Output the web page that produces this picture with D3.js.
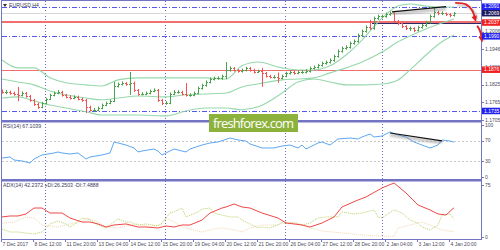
<!DOCTYPE html>
<html lang="en">
<head>
<meta charset="UTF-8">
<title>EURUSD,H4</title>
<script src="https://cdn.jsdelivr.net/npm/d3@7"></script>
<style>
  body { margin:0; background:#fff; }
  svg text { font-family: "Liberation Sans", Arial, sans-serif; }
  .ax { font-size:5px; fill:#4a4a5a; }
  .lbl { font-size:5.2px; fill:#3a3a5a; }
</style>
</head>
<body>
<svg id="main" width="500" height="250"></svg>
<script>
// H4 bars, 7 Dec 2017 .. 4 Jan 2018
const opens = [1.1803,
  1.1800,1.1800,1.1796,1.1793,1.1790,1.1796,1.1786,1.1772,1.1759,1.1749,
  1.1762,1.1776,1.1789,1.1796,1.1800,1.1789,1.1783,1.1779,1.1783,1.1776,
  1.1772,1.1749,1.1738,1.1738,1.1745,1.1755,1.1762,1.1769,1.1820,1.1827,
  1.1830,1.1827,1.1831,1.1806,1.1793,1.1793,1.1796,1.1803,1.1806,1.1772,
  1.1762,1.1762,1.1793,1.1800,1.1800,1.1793,1.1789,1.1789,1.1796,1.1813,
  1.1823,1.1834,1.1844,1.1847,1.1847,1.1854,1.1874,1.1881,1.1874,1.1871,
  1.1874,1.1881,1.1874,1.1868,1.1871,1.1864,1.1854,1.1851,1.1851,1.1848,
  1.1854,1.1864,1.1868,1.1864,1.1868,1.1868,1.1871,1.1881,1.1885,1.1891,
  1.1898,1.1902,1.1908,1.1922,1.1939,1.1949,1.1953,1.1966,1.1973,1.1993,
  1.2007,1.2021,1.2017,1.2051,1.2058,1.2058,1.2065,1.2068,1.2041,1.2034,
  1.2024,1.2017,1.2017,1.2010,1.2021,1.2027,1.2038,1.2058,1.2072,1.2068,
  1.2068,1.2065,1.2061];
const closes = [
  1.1800,1.1800,1.1796,1.1793,1.1790,1.1796,1.1786,1.1772,1.1759,1.1749,
  1.1762,1.1776,1.1789,1.1796,1.1800,1.1789,1.1783,1.1779,1.1783,1.1776,
  1.1772,1.1749,1.1738,1.1738,1.1745,1.1755,1.1762,1.1769,1.1820,1.1827,
  1.1830,1.1827,1.1831,1.1806,1.1793,1.1793,1.1796,1.1803,1.1806,1.1772,
  1.1762,1.1762,1.1793,1.1800,1.1800,1.1793,1.1789,1.1789,1.1796,1.1813,
  1.1823,1.1834,1.1844,1.1847,1.1847,1.1854,1.1874,1.1881,1.1874,1.1871,
  1.1874,1.1881,1.1874,1.1868,1.1871,1.1864,1.1854,1.1851,1.1851,1.1848,
  1.1854,1.1864,1.1868,1.1864,1.1868,1.1868,1.1871,1.1881,1.1885,1.1891,
  1.1898,1.1902,1.1908,1.1922,1.1939,1.1949,1.1953,1.1966,1.1973,1.1993,
  1.2007,1.2021,1.2017,1.2051,1.2058,1.2058,1.2065,1.2068,1.2041,1.2034,
  1.2024,1.2017,1.2017,1.2010,1.2021,1.2027,1.2038,1.2058,1.2072,1.2068,
  1.2068,1.2065,1.2061,1.2068];
const highs = [
  1.1808,1.1806,1.1804,1.1801,1.1817,1.1802,1.1800,1.1790,1.1776,1.1763,
  1.1766,1.1780,1.1794,1.1801,1.1806,1.1804,1.1793,1.1788,1.1788,1.1787,
  1.1780,1.1776,1.1753,1.1745,1.1750,1.1760,1.1767,1.1774,1.1834,1.1832,
  1.1836,1.1834,1.1868,1.1835,1.1810,1.1799,1.1801,1.1808,1.1812,1.1810,
  1.1776,1.1768,1.1798,1.1806,1.1806,1.1804,1.1830,1.1795,1.1801,1.1818,
  1.1828,1.1839,1.1849,1.1852,1.1853,1.1859,1.1902,1.1887,1.1885,1.1878,
  1.1880,1.1886,1.1885,1.1879,1.1876,1.1882,1.1868,1.1858,1.1857,1.1866,
  1.1859,1.1869,1.1873,1.1872,1.1873,1.1874,1.1877,1.1886,1.1890,1.1896,
  1.1903,1.1907,1.1914,1.1927,1.1945,1.1955,1.1959,1.1972,1.1979,1.1999,
  1.2013,1.2027,1.2046,1.2057,1.2064,1.2064,1.2071,1.2075,1.2072,1.2046,
  1.2038,1.2028,1.2023,1.2021,1.2026,1.2032,1.2043,1.2064,1.2090,1.2077,
  1.2075,1.2071,1.2069,1.2073];
const lows = [
  1.1794,1.1792,1.1790,1.1787,1.1768,1.1785,1.1780,1.1766,1.1752,1.1742,
  1.1744,1.1758,1.1772,1.1785,1.1792,1.1784,1.1778,1.1774,1.1775,1.1771,
  1.1766,1.1728,1.1733,1.1732,1.1734,1.1741,1.1751,1.1758,1.1765,1.1815,
  1.1822,1.1821,1.1790,1.1800,1.1787,1.1788,1.1789,1.1792,1.1799,1.1766,
  1.1755,1.1756,1.1758,1.1789,1.1794,1.1788,1.1784,1.1783,1.1785,1.1792,
  1.1808,1.1818,1.1829,1.1839,1.1841,1.1841,1.1843,1.1869,1.1869,1.1866,
  1.1866,1.1870,1.1869,1.1863,1.1864,1.1817,1.1849,1.1846,1.1845,1.1831,
  1.1843,1.1850,1.1859,1.1859,1.1860,1.1862,1.1863,1.1866,1.1876,1.1880,
  1.1886,1.1893,1.1897,1.1903,1.1917,1.1934,1.1944,1.1948,1.1961,1.1968,
  1.1988,1.2002,1.2012,1.2012,1.2046,1.2052,1.2053,1.2060,1.2035,1.2028,
  1.2018,1.2011,1.2008,1.2004,1.2006,1.2016,1.2022,1.2033,1.2053,1.2062,
  1.2062,1.2059,1.2055,1.2057];

// Bollinger bands, read at these bar indices
const bbIdx   = [0,4,8,12,16,21,25,29,34,41,46,51,56,60,64,70,74,78,82,86,90,95,99,102,106,110,113];
const bbUpper = [1.1909,1.1882,1.1882,1.1848,1.1831,1.1824,1.1820,1.1841,1.1848,1.1848,1.1848,1.1848,1.1844,1.1889,1.1902,1.1882,1.1875,1.1875,1.1889,1.1926,1.1977,1.2052,1.2093,1.2100,1.2093,1.2090,1.2090];
const bbMid   = [1.1844,1.1834,1.1824,1.1803,1.1790,1.1779,1.1773,1.1779,1.1786,1.1783,1.1790,1.1793,1.1796,1.1817,1.1827,1.1841,1.1844,1.1848,1.1865,1.1882,1.1902,1.1936,1.1971,1.1991,1.2015,1.2035,1.2049];
const bbLower = [1.1779,1.1783,1.1769,1.1755,1.1745,1.1732,1.1721,1.1721,1.1721,1.1718,1.1735,1.1745,1.1745,1.1739,1.1749,1.1796,1.1834,1.1844,1.1834,1.1824,1.1824,1.1827,1.1841,1.1875,1.1926,1.1971,1.1994];

// RSI(14)
const rsiIdx = [0,2,3,5,7,8,10,13,14,15,17,19,21,22,25,27,28,30,31,33,34,35,38,39,40,41,43,44,46,47,50,52,54,57,59,61,62,65,68,70,72,74,75,76,79,80,82,84,87,89,90,92,93,95,97,99,101,103,105,107,109,110,112,113];
const rsiVal = [36.5,38.5,32.7,30.8,26.9,34.6,42.3,46.2,48.1,46.2,44.2,46.2,34.6,38.5,42.3,46.2,67.3,63.5,61.5,55.8,48.1,50,53.8,50,42.3,46.2,53.8,51.9,48.1,53.8,61.5,65.4,67.3,75,71.2,69.2,63.5,55.8,55.8,59.6,61.5,55.8,61.5,53.8,65.4,67.3,61.5,73.1,75,73.1,76.9,82.7,76.9,78.8,86.5,80.8,76.9,67.3,61.5,55.8,61.5,71.2,69.2,67.1];

// ADX(14), +DI, -DI
const adxIdx = [0,2,4,6,8,10,12,15,17,20,22,24,26,28,31,34,36,39,41,43,45,47,50,52,55,56,58,60,62,65,69,71,73,75,77,80,83,85,89,91,95,98,101,104,107,109,111,113];
const adxVal = [28.9,30.3,30.3,33.2,41.8,41.8,34.6,34.6,27.4,21.6,21.6,18.8,14.4,17.3,18.8,14.4,14.4,13.0,15.9,14.4,17.3,17.3,24.5,34.6,41.8,43.3,47.6,43.3,41.8,34.6,27.4,20.2,18.8,17.3,14.4,20.2,28.9,43.3,53.4,57.7,70.7,77.9,63.5,46.2,39.0,33.2,31.7,42.2];
const pdiIdx = [0,2,4,8,10,12,14,16,17,19,20,22,24,26,28,29,31,32,34,36,39,40,42,43,45,46,49,50,52,53,55,57,59,60,62,64,65,67,70,73,75,77,79,81,84,85,88,90,93,94,95,98,100,102,104,105,107,109,110,112,113];
const pdiVal = [11.5,7.2,7.2,4.3,7.2,18.8,23.1,18.8,14.4,21.6,27.4,24.5,17.3,13.0,21.6,26.0,21.6,21.6,17.3,18.8,15.9,20.2,34.6,36.1,41.8,28.9,36.1,40.4,41.8,34.6,31.7,28.9,28.9,24.5,18.8,13.0,14.4,13.0,20.2,20.2,17.3,20.2,27.4,28.9,28.9,36.1,33.2,34.6,39.0,28.9,27.4,39.0,34.6,24.5,20.2,14.4,10.1,17.3,31.7,33.2,26.3];
const mdiIdx = [0,3,6,8,10,14,17,20,21,24,26,29,32,34,37,40,41,43,45,48,50,53,55,58,60,62,65,69,70,74,77,80,85,90,95,98,99,102,105,107,110,113];
const mdiVal = [20.2,21.6,28.9,27.4,17.3,14.4,18.8,23.1,27.4,21.6,14.4,13.0,17.3,18.8,14.4,18.8,27.4,21.6,14.4,10.1,7.2,11.5,13.0,10.1,7.2,13.0,17.3,17.3,21.6,20.2,13.0,8.7,5.8,2.9,1.0,1.0,13.0,17.3,21.6,17.3,10.1,7.5];

const timeLabels = ['7 Dec 2017','8 Dec 12:00','11 Dec 20:00','13 Dec 04:00','14 Dec 12:00','15 Dec 20:00','19 Dec 04:00','20 Dec 12:00','21 Dec 20:00','26 Dec 04:00','27 Dec 12:00','28 Dec 20:00','2 Jan 04:00','3 Jan 12:00','4 Jan 20:00'];
const timeIdx = [0,8,16,24,32,40,48,56,64,72,80,88,96,104,112];
const sepIdx = [10.75, 40.75, 70.75, 95];

const priceTicks = [1.2006, 1.1946, 1.1886, 1.1825, 1.1765, 1.1705];
const blueLevels = [1.2091, 1.1990, 1.1735];
const redLines = [1.2041, 1.2037, 1.1876];
const redLabels = [1.2037, 1.1876];
const bidPrice = 1.2069;
const rsiTicks = [100, 70, 30, 0];
const rsiLevels = [70, 30];
const adxTicks = [75, 0];

const rsiTrend = [[97, 84.6], [110, 69.5]];
const priceTrend = [[97.5, 1.2073], [111, 1.2091]];
const arrow1 = [[113.3, 1.2104], [116, 1.2099], [117.6, 1.2077], [118.2, 1.2052]];
const arrow2 = [[118.8, 1.2026], [119.6, 1.2005], [119.9, 1.1982]];

let svg = d3.select('svg#main');
let fmt = d3.format('.4f');

let x = d3.scaleLinear().domain([0, 120]).range([2, 482]);
let yP = d3.scaleLinear().domain([1.1704, 1.2107]).range([120, 2]);
let yR = d3.scaleLinear().domain([0, 100]).range([177, 125]);
let yA = d3.scaleLinear().domain([0, 75]).range([237, 185]);

let defs = svg.append('defs');
defs.append('clipPath').attr('id', 'cMain').append('rect').attr('x', 2).attr('y', 1).attr('width', 479).attr('height', 119);
defs.append('filter').attr('id', 'blur').append('feGaussianBlur').attr('stdDeviation', 1.2);

// vertical separators
svg.selectAll('line.sep').data(sepIdx).enter().append('line')
    .attr('x1', d => Math.round(x(d)) + 0.5).attr('x2', d => Math.round(x(d)) + 0.5)
    .attr('y1', 1).attr('y2', 239)
    .attr('stroke', '#6a6ac8').attr('stroke-dasharray', '1,2');

let main = svg.append('g').attr('clip-path', 'url(#cMain)');

// level lines
main.append('line').attr('x1', 2).attr('x2', 481)
    .attr('y1', Math.round(yP(bidPrice)) + 0.5).attr('y2', Math.round(yP(bidPrice)) + 0.5)
    .attr('stroke', '#d8d8d8');
main.selectAll('line.red').data(redLines).enter().append('line')
    .attr('x1', 2).attr('x2', 481)
    .attr('y1', d => Math.round(yP(d)) + 0.5).attr('y2', d => Math.round(yP(d)) + 0.5)
    .attr('stroke', '#f07070');
main.append('line').attr('x1', x(92.5)).attr('x2', 481)
    .attr('y1', Math.round(yP(1.2035)) + 0.5).attr('y2', Math.round(yP(1.2035)) + 0.5)
    .attr('stroke', '#2a2a6a');
main.selectAll('line.blue').data(blueLevels).enter().append('line')
    .attr('x1', 2).attr('x2', 481)
    .attr('y1', d => Math.round(yP(d)) + 0.5).attr('y2', d => Math.round(yP(d)) + 0.5)
    .attr('stroke', '#5656f0').attr('stroke-dasharray', '5,2,1,2');

// bollinger bands
let bbLine = d3.line().x(d => x(d[0])).y(d => yP(d[1])).curve(d3.curveMonotoneX);
[bbUpper, bbMid, bbLower].forEach(function(band){
    main.append('path')
        .datum(bbIdx.map((d, i) => [d, band[i]]))
        .attr('d', bbLine).attr('fill', 'none')
        .attr('stroke', '#96d8ac').attr('stroke-width', 1.1);
});

// OHLC bars
let bars = main.selectAll('g.bar').data(closes).enter().append('g')
    .attr('stroke', (d, i) => d >= opens[i] ? '#4aa24a' : '#f25252');
bars.append('line')
    .attr('x1', (d, i) => x(i) + 0.5).attr('x2', (d, i) => x(i) + 0.5)
    .attr('y1', (d, i) => yP(highs[i])).attr('y2', (d, i) => yP(lows[i]));
bars.append('line')
    .attr('x1', (d, i) => x(i) - 1).attr('x2', (d, i) => x(i))
    .attr('y1', (d, i) => Math.round(yP(opens[i])) + 0.5).attr('y2', (d, i) => Math.round(yP(opens[i])) + 0.5);
bars.append('line')
    .attr('x1', (d, i) => x(i) + 1).attr('x2', (d, i) => x(i) + 2)
    .attr('y1', d => Math.round(yP(d)) + 0.5).attr('y2', d => Math.round(yP(d)) + 0.5);

// price trend line
let trendLine = d3.line().x(d => x(d[0])).y(d => yP(d[1]));
main.append('path').datum(priceTrend).attr('d', trendLine)
    .attr('transform', 'translate(0,2)')
    .attr('stroke', '#888').attr('stroke-width', 3).attr('opacity', 0.5).attr('filter', 'url(#blur)');
main.append('path').datum(priceTrend).attr('d', trendLine)
    .attr('stroke', '#111').attr('stroke-width', 1.2);

// RSI
svg.selectAll('line.rl').data(rsiLevels).enter().append('line')
    .attr('x1', 2).attr('x2', 481)
    .attr('y1', d => Math.round(yR(d)) + 0.5).attr('y2', d => Math.round(yR(d)) + 0.5)
    .attr('stroke', '#c8c8c8').attr('stroke-dasharray', '2,2');
svg.append('path')
    .datum(rsiIdx.map((d, i) => [d, rsiVal[i]]))
    .attr('d', d3.line().x(d => x(d[0])).y(d => yR(d[1])))
    .attr('fill', 'none').attr('stroke', '#5ea8f2').attr('stroke-width', 1);
let rsiTrendLine = d3.line().x(d => x(d[0])).y(d => yR(d[1]));
svg.append('path').datum(rsiTrend).attr('d', rsiTrendLine)
    .attr('transform', 'translate(0,2)')
    .attr('stroke', '#888').attr('stroke-width', 3).attr('opacity', 0.5).attr('filter', 'url(#blur)');
svg.append('path').datum(rsiTrend).attr('d', rsiTrendLine)
    .attr('stroke', '#111').attr('stroke-width', 1.2);

// ADX
let adxLine = d3.line().x(d => x(d[0])).y(d => yA(d[1]));
svg.append('path').datum(mdiIdx.map((d, i) => [d, mdiVal[i]])).attr('d', adxLine)
    .attr('fill', 'none').attr('stroke', '#f2d8b0').attr('stroke-dasharray', '1,1');
svg.append('path').datum(pdiIdx.map((d, i) => [d, pdiVal[i]])).attr('d', adxLine)
    .attr('fill', 'none').attr('stroke', '#b8d468').attr('stroke-dasharray', '1,1');
svg.append('path').datum(adxIdx.map((d, i) => [d, adxVal[i]])).attr('d', adxLine)
    .attr('fill', 'none').attr('stroke', '#f04848').attr('stroke-width', 1);

// frame
let frame = '#7474c4';
svg.append('line').attr('x1', 1.5).attr('x2', 1.5).attr('y1', 0).attr('y2', 239).attr('stroke', frame);
svg.append('line').attr('x1', 481.5).attr('x2', 481.5).attr('y1', 0).attr('y2', 239).attr('stroke', frame);
svg.append('line').attr('x1', 1).attr('x2', 482).attr('y1', 0.5).attr('y2', 0.5).attr('stroke', frame);
svg.append('line').attr('x1', 1).attr('x2', 482).attr('y1', 239.5).attr('y2', 239.5).attr('stroke', frame);
svg.append('rect').attr('x', 1).attr('y', 120).attr('width', 481).attr('height', 2.5).attr('fill', frame);
svg.append('rect').attr('x', 1).attr('y', 179).attr('width', 481).attr('height', 2.5).attr('fill', frame);

// watermark
svg.append('rect').attr('x', 209).attr('y', 114).attr('width', 89).attr('height', 18).attr('fill', '#8cb23c');
svg.append('text').attr('x', 213).attr('y', 127.5).text('freshforex.com')
    .style('font-family', '"Open Sans", sans-serif').style('font-size', '13px').style('fill', '#fff')
    .attr('textLength', 81);

// arrows
let arrowLine = d3.line().x(d => x(d[0])).y(d => yP(d[1])).curve(d3.curveCatmullRom);
[arrow1, arrow2].forEach(function(a){
    svg.append('path').datum(a).attr('d', arrowLine).attr('fill', 'none')
        .attr('transform', 'translate(2,2)')
        .attr('stroke', '#999').attr('stroke-width', 2.5).attr('opacity', 0.6).attr('filter', 'url(#blur)');
    svg.append('path').datum(a).attr('d', arrowLine).attr('fill', 'none')
        .attr('stroke', '#e41e1e').attr('stroke-width', 1.8);
    let p = a[a.length - 1], q = a[a.length - 2];
    let ex = x(p[0]), ey = yP(p[1]);
    let ang = Math.atan2(ey - yP(q[1]), ex - x(q[0]));
    let head = [[ex + 4 * Math.cos(ang), ey + 4 * Math.sin(ang)],
                [ex + 3.5 * Math.cos(ang + 2.2), ey + 3.5 * Math.sin(ang + 2.2)],
                [ex + 3.5 * Math.cos(ang - 2.2), ey + 3.5 * Math.sin(ang - 2.2)]];
    svg.append('polygon').attr('points', head.map(h => h.join(',')).join(' ')).attr('fill', '#e41e1e');
});

// right axis
function tick(yv, txt){
    svg.append('line').attr('x1', 482).attr('x2', 484).attr('y1', Math.round(yv) + 0.5).attr('y2', Math.round(yv) + 0.5).attr('stroke', frame);
    svg.append('text').attr('class', 'ax').attr('x', 485).attr('y', yv + 1.8).text(txt);
}
priceTicks.forEach(d => tick(yP(d), fmt(d)));
rsiTicks.forEach(d => tick(yR(d), d));
adxTicks.forEach(d => tick(yA(d), d));

function box(v, col){
    let yv = yP(v);
    svg.append('rect').attr('x', 482).attr('y', yv - 3.2).attr('width', 18).attr('height', 6.5).attr('fill', col);
    svg.append('text').attr('x', 484).attr('y', yv + 1.8).text(fmt(v))
        .style('font-size', '5px').style('fill', '#fff');
}
blueLevels.forEach(d => box(d, '#2222f0'));
redLabels.forEach(d => box(d, '#f02020'));
box(bidPrice, '#1c1c5c');

// time axis
svg.selectAll('line.tt').data(timeIdx).enter().append('line')
    .attr('x1', d => x(d) - 0.5).attr('x2', d => x(d) - 0.5)
    .attr('y1', 239).attr('y2', 242).attr('stroke', frame);
svg.selectAll('text.tl').data(timeLabels).enter().append('text')
    .attr('class', 'ax')
    .attr('x', (d, i) => x(timeIdx[i]) + 0.5).attr('y', 246)
    .text(d => d);

// titles
svg.append('path').attr('d', 'M3,4 L7,4 L5,7 Z').attr('fill', '#333');
svg.append('text').attr('class', 'lbl').attr('x', 9).attr('y', 7.2).text('EURUSD,H4');
svg.append('text').attr('class', 'lbl').attr('x', 3).attr('y', 127.5).text('RSI(14) 67.1039');
svg.append('text').attr('class', 'lbl').attr('x', 3).attr('y', 187).text('ADX(14) 42.2372 +DI:26.2503 -DI:7.4888');
</script>
</body>
</html>
